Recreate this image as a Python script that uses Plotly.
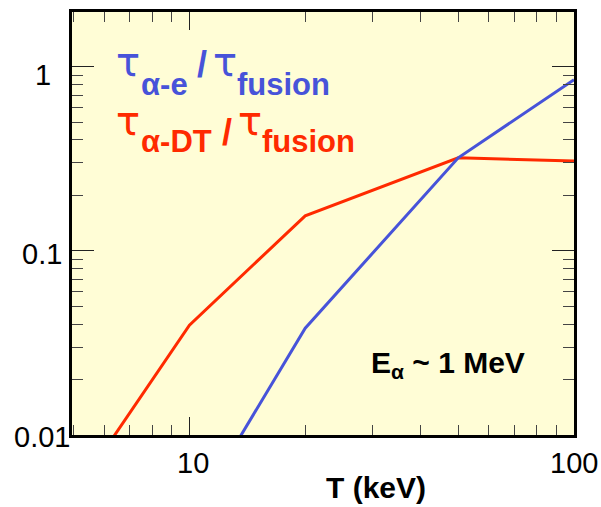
import math
import plotly.graph_objects as go

# ---- data ----
T_alpha_e = [10, 20, 50, 100]
ratio_alpha_e = [0.0034, 0.038, 0.32, 0.85]
T_alpha_dt = [5, 10, 20, 50, 100]
ratio_alpha_dt = [0.0047, 0.0395, 0.155, 0.32, 0.308]

x_tick_vals = [10, 100]
x_tick_text = ["10", "100"]
y_tick_vals = [1, 0.1, 0.01]
y_tick_text = ["1", "0.1", "0.01"]

BLUE = "#4753D9"
RED = "#FF2A00"
BG = "#FFFDD6"
FONT = "Liberation Sans, Arial, Helvetica, sans-serif"
TAUFONT = "DejaVu Sans, sans-serif"

W, H = 601, 507
L, R, T, B = 72, 27, 9, 72
PW, PH = W - L - R, H - T - B


def px(x):
    return (x - L) / PW


def py(y):
    return (H - B - y) / PH


fig = go.Figure()
fig.add_trace(go.Scatter(x=T_alpha_dt, y=ratio_alpha_dt, mode="lines",
                         line=dict(color=RED, width=3), showlegend=False))
fig.add_trace(go.Scatter(x=T_alpha_e, y=ratio_alpha_e, mode="lines",
                         line=dict(color=BLUE, width=3), showlegend=False))

ann = []


def piece(text, x, yc, size, color, bold=False, family=FONT):
    t = "<b>%s</b>" % text if bold else text
    ann.append(dict(text=t, xref="paper", yref="paper", x=px(x), y=py(yc),
                    xanchor="left", yanchor="middle", showarrow=False,
                    font=dict(family=family, size=size, color=color)))


# blue label  tau_{alpha-e} / tau_{fusion}
piece("τ", 114, 59, 40, BLUE, family=TAUFONT)
piece("α-e", 139, 82, 31, BLUE, True)
piece("/", 195, 62, 36, BLUE, True)
piece("τ", 211, 59, 40, BLUE, family=TAUFONT)
piece("fusion", 235, 82, 31, BLUE, True)
# red label  tau_{alpha-DT} / tau_{fusion}
piece("τ", 114, 119, 40, RED, family=TAUFONT)
piece("α-DT", 139, 139, 31, RED, True)
piece("/", 220, 130, 36, RED, True)
piece("τ", 236, 119, 40, RED, family=TAUFONT)
piece("fusion", 260, 139, 31, RED, True)

# E_alpha ~ 1 MeV
ann.append(dict(text="<b>E<sub>α</sub> ~ 1 MeV</b>", xref="paper", yref="paper",
                x=px(369), y=py(364), xanchor="left", yanchor="middle",
                showarrow=False, font=dict(family=FONT, size=30, color="black")))
# x title
ann.append(dict(text="<b>T (keV)</b>", xref="paper", yref="paper",
                x=px(376), y=py(488), xanchor="center", yanchor="middle",
                showarrow=False, font=dict(family=FONT, size=30, color="black")))

# tick labels
y_label_right = [53, 64, 72]
y_label_shift = [-8, -3, -2]
for v, t, xr, sh in zip(y_tick_vals, y_tick_text, y_label_right, y_label_shift):
    ann.append(dict(text=t, xref="paper", yref="y", x=px(xr), y=math.log10(v),
                    yshift=sh, xanchor="right", yanchor="middle", showarrow=False,
                    font=dict(family=FONT, size=29, color="black")))
for v, t in zip(x_tick_vals, x_tick_text):
    ann.append(dict(text=t, xref="x", yref="paper", x=math.log10(v) + 0.008 * (v == 10),
                    y=py(463), xanchor="center", yanchor="middle", showarrow=False,
                    font=dict(family=FONT, size=29, color="black")))

fig.update_layout(
    width=W, height=H,
    margin=dict(l=L, r=R, t=T, b=B, pad=0),
    paper_bgcolor="white", plot_bgcolor=BG,
    annotations=ann,
    xaxis=dict(type="log", range=[math.log10(4.95), 2], showgrid=False, zeroline=False,
               showline=True, linecolor="black", linewidth=2.5, mirror="allticks",
               ticks="inside", ticklen=18, tickwidth=1.3, tickcolor="#222",
               dtick=1, showticklabels=False,
               minor=dict(ticks="inside", ticklen=10, tickwidth=1.3, tickcolor="#444",
                          dtick="D1", showgrid=False)),
    yaxis=dict(type="log", range=[-2, 0.297], showgrid=False, zeroline=False,
               showline=True, linecolor="black", linewidth=2.5, mirror="allticks",
               ticks="inside", ticklen=22, tickwidth=1.3, tickcolor="#222",
               dtick=1, showticklabels=False,
               minor=dict(ticks="inside", ticklen=11, tickwidth=1.3, tickcolor="#444",
                          dtick="D1", showgrid=False)),
)

fig.write_html("out.html", config={"displayModeBar": False},
               post_script="document.body.style.margin='0';"
                           "document.body.style.overflow='hidden';")
